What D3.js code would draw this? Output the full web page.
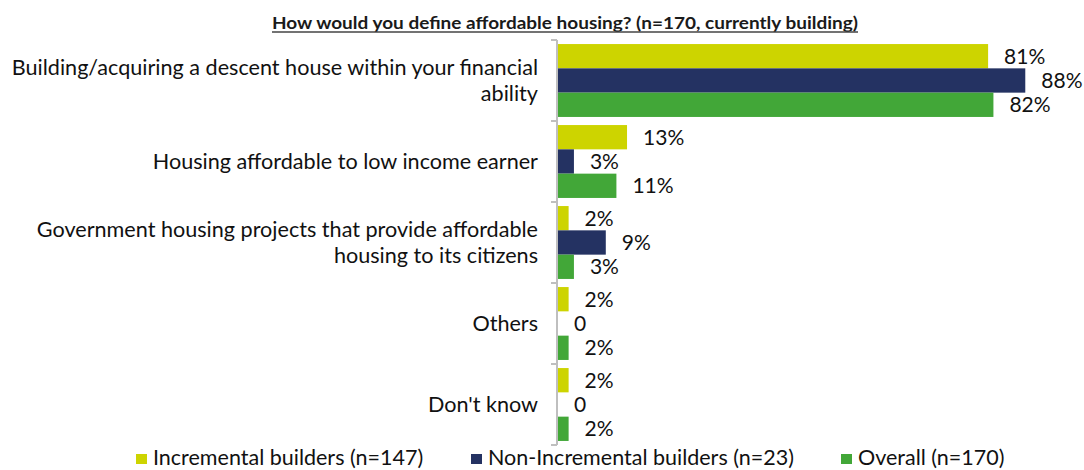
<!DOCTYPE html>
<html>
<head>
<meta charset="utf-8">
<script src="https://cdn.jsdelivr.net/npm/d3@7"></script>
<style>
  html, body { margin: 0; padding: 0; background: #fff; }
  svg { display: block; font-family: Lato, "Open Sans", sans-serif; }
</style>
</head>
<body>
<svg id="chart" width="1084" height="470"></svg>
<script>
// Survey answers: each category label is split into its display lines
const categories = [
  ["Building/acquiring a descent house within your financial", "ability"],
  ["Housing affordable to low income earner"],
  ["Government housing projects that provide affordable", "housing to its citizens"],
  ["Others"],
  ["Don't know"]
];
const seriesNames = ["Incremental builders (n=147)", "Non-Incremental builders (n=23)", "Overall (n=170)"];
const seriesColors = ["#CDD400", "#243262", "#42A738"];

// Percent of respondents per category, one array per group
const incremental    = [81, 13, 2, 2, 2];
const nonIncremental = [88, 3, 9, 0, 0];
const overall        = [82, 11, 3, 2, 2];
const seriesValues = [incremental, nonIncremental, overall];

const valueLabel = v => v === 0 ? "0" : v + "%";
const title = "How would you define affordable housing? (n=170, currently building)";

const svg = d3.select("#chart");

const x = d3.scaleLinear().domain([0, 100]).range([558, 1089]);
const y = d3.scaleBand()
  .domain(d3.range(categories.length))
  .range([40, 445])
  .paddingInner(0.1)
  .paddingOuter(0.05);
const ySub = d3.scaleBand()
  .domain(d3.range(seriesNames.length))
  .range([0, y.bandwidth()]);

// Title, bold and underlined
svg.append("text")
  .attr("x", 272).attr("y", 29)
  .attr("font-size", 17).attr("font-weight", "bold")
  .attr("fill", "#1a1a1a")
  .attr("textLength", 586)
  .attr("lengthAdjust", "spacingAndGlyphs")
  .text(title);
svg.append("line")
  .attr("x1", 272).attr("x2", 858)
  .attr("y1", 32).attr("y2", 32)
  .attr("stroke", "#444").attr("stroke-width", 1.3);

// Bars
const groups = svg.append("g").selectAll("g")
  .data(categories.map((c, i) => i))
  .join("g")
  .attr("transform", i => `translate(0,${y(i)})`);

groups.selectAll("rect")
  .data(i => seriesValues.map((s, k) => ({ k, v: s[i] })))
  .join("rect")
  .attr("x", x(0))
  .attr("y", d => ySub(d.k))
  .attr("width", d => x(d.v) - x(0))
  .attr("height", ySub.bandwidth())
  .attr("fill", d => seriesColors[d.k]);

groups.selectAll("text.val")
  .data(i => seriesValues.map((s, k) => ({ k, v: s[i] })))
  .join("text")
  .attr("class", "val")
  .attr("x", d => x(d.v) + 16)
  .attr("y", d => ySub(d.k) + ySub.bandwidth() / 2 + 7.5)
  .attr("font-size", 21)
  .attr("fill", "#111")
  .text(d => valueLabel(d.v));

// Category axis: vertical line with ticks between categories
const axisG = svg.append("g").attr("transform", "translate(557,0)");
const boundaries = d3.range(categories.length + 1).map(i => 40 + i * y.step());
axisG.append("line")
  .attr("x1", 0).attr("x2", 0)
  .attr("y1", boundaries[0]).attr("y2", boundaries[boundaries.length - 1])
  .attr("stroke", "#BFBFBF").attr("stroke-width", 2);
axisG.selectAll("line.tick")
  .data(boundaries)
  .join("line")
  .attr("class", "tick")
  .attr("x1", -6).attr("x2", 0)
  .attr("y1", d => d).attr("y2", d => d)
  .attr("stroke", "#BFBFBF").attr("stroke-width", 2);

// Category labels, right-aligned against the axis
svg.append("g").selectAll("text")
  .data(categories.map((lines, i) => ({ lines, i })))
  .join("text")
  .attr("text-anchor", "end")
  .attr("font-size", 21.6)
  .attr("fill", "#111")
  .each(function(d) {
    const cy = y(d.i) + y.bandwidth() / 2;
    const n = d.lines.length;
    d3.select(this).selectAll("tspan")
      .data(d.lines)
      .join("tspan")
      .attr("x", 538)
      .attr("y", (l, j) => cy + 7.5 + (j - (n - 1) / 2) * 26)
      .text(l => l);
  });

// Legend
const legendX = [136, 471, 841];
const legend = svg.append("g").selectAll("g")
  .data(seriesNames.map((n, k) => ({ n, k })))
  .join("g")
  .attr("transform", d => `translate(${legendX[d.k]},454)`);
legend.append("rect")
  .attr("width", 11).attr("height", 10)
  .attr("fill", d => seriesColors[d.k]);
legend.append("text")
  .attr("x", 17).attr("y", 11)
  .attr("font-size", 21.5)
  .attr("fill", "#111")
  .text(d => d.n);
</script>
</body>
</html>
